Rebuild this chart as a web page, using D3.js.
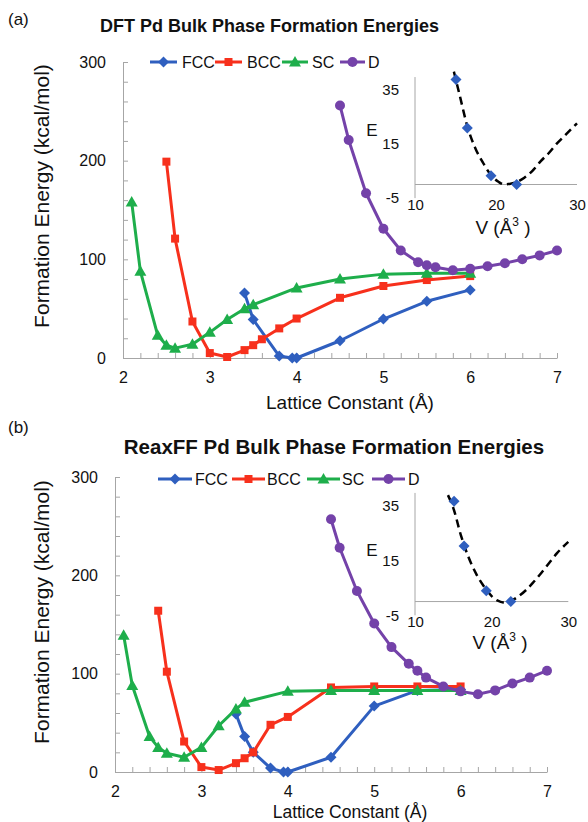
<!DOCTYPE html>
<html><head><meta charset="utf-8">
<script src="https://cdn.jsdelivr.net/npm/d3@7"></script>
<style>
body{margin:0;background:#fff;}
svg{display:block;}
text{font-family:"Liberation Sans",Arial,sans-serif;fill:#111;}
</style></head>
<body>
<svg id="chart" width="588" height="822"></svg>
<script>
// ---------- DATA ----------
const seriesNames = ["FCC","BCC","SC","D"];
const xTickLabels = [2,3,4,5,6,7];
const yTickLabels = [0,100,200,300];
const insetXTickLabels = [10,20,30];
const insetYTickLabels = [-5,15,35];

// (a) DFT
const dftFccX = [3.4,3.5,3.8,3.95,4.0,4.5,5.0,5.5,6.0];
const dftFccY = [66,39,2,0,0,17.5,39.5,57.5,69];
const dftBccX = [2.5,2.6,2.8,3.0,3.2,3.4,3.5,3.6,3.8,4.0,4.5,5.0,5.5,6.0];
const dftBccY = [199,121,37,5,1,8,13,19,30,40,61,73,79,83];
const dftScX  = [2.1,2.2,2.4,2.5,2.6,2.8,3.0,3.2,3.4,3.5,4.0,4.5,5.0,5.5,6.0];
const dftScY  = [158,88,23,13,10,14,26,39,50,54,71,80,85,86,86];
const dftDX   = [4.5,4.6,4.8,5.0,5.2,5.4,5.5,5.6,5.8,6.0,6.2,6.4,6.6,6.8,7.0];
const dftDY   = [256,221,167,131,109,97,94,92,89,90.5,93,96,100,104,109];
const dftInsetV = [15.06,16.46,19.38,22.55];
const dftInsetE = [38.6,20.8,3.2,0];
const dftFitV = [14.8,15.5,16.5,17.5,18.5,19.5,20.3,21.0,21.8,22.6,23.5,24.5,25.5,26.5,27.5,28.5,30.0];
const dftFitE = [41.5,33,21,13,7.5,3,1,0,0.3,1,2.5,5,8.5,11.5,15,18,22.5];

// (b) ReaxFF
const rxFccX = [3.4,3.5,3.6,3.8,3.95,4.0,4.5,5.0,5.5,6.0];
const rxFccY = [59,36,20,4,0,0,15,67,83,84];
const rxBccX = [2.5,2.6,2.8,3.0,3.2,3.4,3.5,3.6,3.8,4.0,4.5,5.0,5.5,6.0];
const rxBccY = [164,102,31,5,2,9,14,20,48,56,86,87,87,87];
const rxScX  = [2.1,2.2,2.4,2.5,2.6,2.8,3.0,3.2,3.4,3.5,4.0,4.5,5.0,5.5,6.0];
const rxScY  = [139,88,36,25,19,15,25,47,64,71,82,83,83,83,83];
const rxDX   = [4.5,4.6,4.8,5.0,5.2,5.4,5.5,5.6,5.8,6.0,6.2,6.4,6.6,6.8,7.0];
const rxDY   = [257,228,184,151,127,110,103,96,87,82,79,83,90,96,103];
const rxInsetV = [15.1,16.4,19.3,22.5];
const rxInsetE = [36.5,20.2,3.9,0];
const rxFitV = [14.3,15.0,16.0,17.0,18.0,19.0,20.0,20.8,21.5,22.3,23.3,24.5,25.5,26.5,27.5,28.5,30.0];
const rxFitE = [38.7,34,24,16,10,5.5,2,0.3,-0.3,0,1.5,4.2,7.2,10.5,14,17.5,21.7];

// ---------- STYLE ----------
const colors = {FCC:"#2f5fbf", BCC:"#f7301c", SC:"#1eae4b", D:"#7442a9"};
const shapes = {FCC:"diamond", BCC:"square", SC:"triangle", D:"circle"};
const axisColor = "#a6a6a6";
const plainFmt = d => String(d);

function markerPath(shape){
  if(shape==="diamond") return "M0,-5.5L5.5,0L0,5.5L-5.5,0Z";
  if(shape==="square") return "M-4,-4H4V4H-4Z";
  if(shape==="triangle") return "M0,-6L6,4.5H-6Z";
  return d3.symbol(d3.symbolCircle, Math.PI*25)();
}

const svg = d3.select("#chart");

function zip(xs, ys){ return xs.map((x,i)=>({x, y: ys[i]})); }

function styleText(sel, size){
  sel.selectAll("text").attr("font-size",size).attr("font-family","Liberation Sans, Arial, sans-serif").attr("fill","#111");
}

function drawPanel(cfg){
  const g = svg.append("g");
  const x = d3.scaleLinear().domain([2,7]).range([cfg.x0, cfg.x1]);
  const y = d3.scaleLinear().domain([0,300]).range([cfg.y0, cfg.y1]);

  // panel letter + title
  g.append("text").attr("x",8).attr("y",cfg.letterY).attr("font-size",17).text(cfg.letter);
  g.append("text").attr("x",cfg.titleX).attr("y",cfg.titleY).attr("text-anchor","middle")
    .attr("font-size",cfg.titleSize).attr("font-weight","bold").text(cfg.title);

  // y axis minor ticks (inward)
  const ya = g.append("g").attr("transform",`translate(${cfg.x0},0)`)
    .call(d3.axisLeft(y).tickValues(d3.range(0,301,20)).tickSize(-5).tickSizeOuter(0).tickFormat(""));
  ya.selectAll("path,line").attr("stroke",axisColor);
  const yl = g.append("g").attr("transform",`translate(${cfg.x0},0)`)
    .call(d3.axisLeft(y).tickValues(yTickLabels).tickFormat(plainFmt).tickSize(0).tickPadding(17));
  yl.select(".domain").remove();
  styleText(yl,16);

  // x axis
  const xa = g.append("g").attr("transform",`translate(0,${cfg.y0})`)
    .call(d3.axisBottom(x).tickValues(d3.range(0,26).map(i=>2+i*0.2)).tickSize(-5).tickSizeOuter(0).tickFormat(""));
  xa.selectAll("path,line").attr("stroke",axisColor);
  const xl = g.append("g").attr("transform",`translate(0,${cfg.y0})`)
    .call(d3.axisBottom(x).tickValues(xTickLabels).tickFormat(plainFmt).tickSize(0).tickPadding(cfg.xPad));
  xl.select(".domain").remove();
  styleText(xl,16);

  g.append("text").attr("x",350).attr("y",cfg.xTitleY).attr("text-anchor","middle").attr("font-size",cfg.xTitleSize)
    .text("Lattice Constant (Å)");
  g.append("text").attr("transform",`translate(41,${cfg.yTitleY}) rotate(-90)`).attr("text-anchor","middle")
    .attr("dominant-baseline","central").attr("font-size",21).text("Formation Energy (kcal/mol)");

  // legend
  seriesNames.forEach((name,i)=>{
    const L = cfg.legend[i];
    const lg = g.append("g");
    lg.append("line").attr("x1",L[0]).attr("x2",L[1]).attr("y1",cfg.legendY).attr("y2",cfg.legendY)
      .attr("stroke",colors[name]).attr("stroke-width",3);
    lg.append("path").attr("d",markerPath(shapes[name]))
      .attr("transform",`translate(${(L[0]+L[1])/2},${cfg.legendY})`).attr("fill",colors[name]);
    lg.append("text").attr("x",L[2]).attr("y",cfg.legendY).attr("dominant-baseline","central")
      .attr("font-size",16).text(name);
  });

  // inset
  const ix = d3.scaleLinear().domain([10,30]).range([cfg.ix0, cfg.ix1]);
  const iy = d3.scaleLinear().domain([-5,35]).range([cfg.iy0, cfg.iy1]);
  g.append("line").attr("x1",ix(10)).attr("x2",ix(10)).attr("y1",iy(-5)).attr("y2",iy(39.5))
    .attr("stroke",axisColor).attr("stroke-width",1);
  g.append("line").attr("x1",ix(10)).attr("x2",ix(30)).attr("y1",iy(0)).attr("y2",iy(0))
    .attr("stroke",axisColor).attr("stroke-width",1);
  const iyl = g.append("g").attr("transform",`translate(${ix(10)},0)`)
    .call(d3.axisLeft(iy).tickValues(insetYTickLabels).tickFormat(plainFmt).tickSize(0).tickPadding(16));
  iyl.select(".domain").remove();
  styleText(iyl,15);
  const ixl = g.append("g").attr("transform",`translate(0,${iy(-5)})`)
    .call(d3.axisBottom(ix).tickValues(insetXTickLabels).tickFormat(plainFmt).tickSize(0).tickPadding(cfg.ixPad));
  ixl.select(".domain").remove();
  styleText(ixl,15);

  g.append("text").attr("x",cfg.eX).attr("y",cfg.eY).attr("text-anchor","middle").attr("dominant-baseline","central")
    .attr("font-size",17).text("E");
  const vt = g.append("text").attr("x",cfg.vX).attr("y",cfg.vY).attr("text-anchor","middle").attr("font-size",19);
  vt.append("tspan").text("V (Å");
  vt.append("tspan").attr("font-size",12).attr("dy",-8).text("3");
  vt.append("tspan").attr("dy",8).text(" )");

  g.append("path").datum(zip(cfg.fitV,cfg.fitE))
    .attr("d",d3.line().x(d=>ix(d.x)).y(d=>iy(d.y)).curve(d3.curveMonotoneX))
    .attr("fill","none").attr("stroke","#000").attr("stroke-width",2.5).attr("stroke-dasharray","8,5");
  g.selectAll(null).data(zip(cfg.insV,cfg.insE)).join("path")
    .attr("d",markerPath("diamond")).attr("transform",d=>`translate(${ix(d.x)},${iy(d.y)})`)
    .attr("fill","#2f5fbf");

  // series
  const line = d3.line().x(d=>x(d.x)).y(d=>y(d.y));
  cfg.series.forEach((s,i)=>{
    const name = seriesNames[i];
    const pts = zip(s[0],s[1]);
    g.append("path").datum(pts).attr("d",line).attr("fill","none")
      .attr("stroke",colors[name]).attr("stroke-width",3).attr("stroke-linejoin","round");
    g.selectAll(null).data(pts).join("path").attr("d",markerPath(shapes[name]))
      .attr("transform",d=>`translate(${x(d.x)},${y(d.y)})`).attr("fill",colors[name]);
  });
}

drawPanel({
  letter:"(a)", letterY:25, title:"DFT Pd Bulk Phase Formation Energies", titleX:269.5, titleY:32, titleSize:18,
  x0:123, x1:557, y0:358, y1:62, xPad:13.6, xTitleY:409, xTitleSize:19, yTitleY:196,
  legendY:62, legend:[[150,177,182],[215,242,247],[282,308,312],[340,365,368]],
  ix0:415, ix1:577, iy0:198.1, iy1:89.3, ixPad:1.5, eX:372, eY:130, vX:503, vY:234,
  fitV:dftFitV, fitE:dftFitE, insV:dftInsetV, insE:dftInsetE,
  series:[[dftFccX,dftFccY],[dftBccX,dftBccY],[dftScX,dftScY],[dftDX,dftDY]]
});
drawPanel({
  letter:"(b)", letterY:433, title:"ReaxFF Pd Bulk Phase Formation Energies", titleX:334, titleY:454, titleSize:20.5,
  x0:115, x1:547, y0:772, y1:477, xPad:14, xTitleY:818, xTitleSize:17.5, yTitleY:612,
  legendY:479, legend:[[158,192,195],[232,265,267],[307,340,342],[372,405,408]],
  ix0:415, ix1:568.3, iy0:615.3, iy1:505.3, ixPad:1.5, eX:372, eY:550, vX:500, vY:649,
  fitV:rxFitV, fitE:rxFitE, insV:rxInsetV, insE:rxInsetE,
  series:[[rxFccX,rxFccY],[rxBccX,rxBccY],[rxScX,rxScY],[rxDX,rxDY]]
});
</script>
</body></html>
